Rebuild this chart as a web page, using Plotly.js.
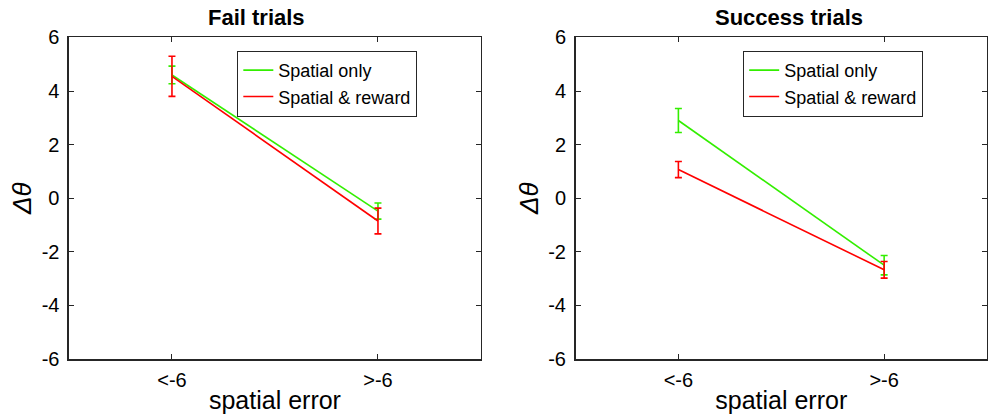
<!DOCTYPE html>
<html><head><meta charset="utf-8">
<script src="https://cdn.plot.ly/plotly-3.0.1.min.js"></script>
<style>body{margin:0;padding:0;background:#fff}#chart{width:988px;height:416px}</style>
</head><body><div id="chart"></div>
<script>
const categories = ['<-6', '>-6'];
const catPos = [1, 2];
const yTickVals = [-6, -4, -2, 0, 2, 4, 6];
const yTickLabels = ['-6', '-4', '-2', '0', '2', '4', '6'];
const seriesNames = ['Spatial only', 'Spatial & reward'];
const seriesColors = ['#33ee00', '#ff0000'];
// Fail trials
const failSpatialMean = [4.6, -0.48];
const failSpatialErr = [0.33, 0.3];
const failRewardMean = [4.55, -0.85];
const failRewardErr = [0.75, 0.48];
// Success trials
const succSpatialMean = [2.9, -2.5];
const succSpatialErr = [0.45, 0.36];
const succRewardMean = [1.07, -2.67];
const succRewardErr = [0.3, 0.31];
const panelTitles = ['Fail trials', 'Success trials'];

const FONT = 'Liberation Sans, Arial, Helvetica, sans-serif';
function tr(y, e, i, xa, ya, leg, show) {
  return {
    x: catPos, y: y, type: 'scatter', mode: 'lines',
    name: seriesNames[i], xaxis: xa, yaxis: ya, legend: leg, showlegend: show,
    line: {color: seriesColors[i], width: 1.6},
    error_y: {type: 'data', array: e, visible: true, color: seriesColors[i], thickness: 1.6, width: 3.5}
  };
}
const data = [
  tr(failSpatialMean, failSpatialErr, 0, 'x', 'y', 'legend', true),
  tr(failRewardMean, failRewardErr, 1, 'x', 'y', 'legend', true),
  tr(succSpatialMean, succSpatialErr, 0, 'x2', 'y2', 'legend2', true),
  tr(succRewardMean, succRewardErr, 1, 'x2', 'y2', 'legend2', true)
];
const axCommon = {
  showline: true, mirror: 'ticks', linecolor: '#262626', linewidth: 1.5,
  ticks: 'inside', ticklen: 5, tickcolor: '#262626', tickwidth: 1,
  showgrid: false, zeroline: false, tickfont: {family: FONT, size: 20, color: '#000'}
};
const xa = (dom, anchor) => Object.assign({}, axCommon, {
  domain: dom, anchor: anchor, range: [0.5, 2.5], tickvals: catPos, ticktext: categories,
  ticklabelstandoff: 2,
  title: {text: 'spatial error', font: {family: FONT, size: 25, color: '#000'}, standoff: 2}
});
const ya = (dom, anchor) => Object.assign({}, axCommon, {
  domain: dom, anchor: anchor, range: [-6, 6], tickvals: yTickVals, ticktext: yTickLabels,
  ticklabelstandoff: 4,
  title: {text: '<i>Δθ</i>', font: {family: FONT, size: 26, color: '#000'}, standoff: 2}
});
const ydom = [0.137, 0.910];
const legStyle = (x) => ({
  x: x, y: 0.878, xanchor: 'left', yanchor: 'top', bgcolor: '#fff',
  bordercolor: '#262626', borderwidth: 1.2, font: {family: FONT, size: 18, color: '#000'},
  tracegroupgap: 0
});
const layout = {
  width: 988, height: 416, margin: {l: 0, r: 0, t: 0, b: 0},
  paper_bgcolor: '#fff', plot_bgcolor: '#fff', showlegend: true,
  xaxis: xa([0.0698, 0.4868], 'y'),
  yaxis: ya(ydom, 'x'),
  xaxis2: xa([0.5825, 0.999], 'y2'),
  yaxis2: ya(ydom, 'x2'),
  legend: legStyle(0.24),
  legend2: legStyle(0.752),
  annotations: [
    {text: '<b>' + panelTitles[0] + '</b>', xref: 'paper', yref: 'paper', x: 256/988, y: 1 - 18/416, xanchor: 'center', yanchor: 'middle', showarrow: false, font: {family: FONT, size: 22, color: '#000'}},
    {text: '<b>' + panelTitles[1] + '</b>', xref: 'paper', yref: 'paper', x: 789/988, y: 1 - 18/416, xanchor: 'center', yanchor: 'middle', showarrow: false, font: {family: FONT, size: 22, color: '#000'}}
  ]
};
Plotly.newPlot('chart', data, layout, {displayModeBar: false, staticPlot: true});
</script></body></html>
